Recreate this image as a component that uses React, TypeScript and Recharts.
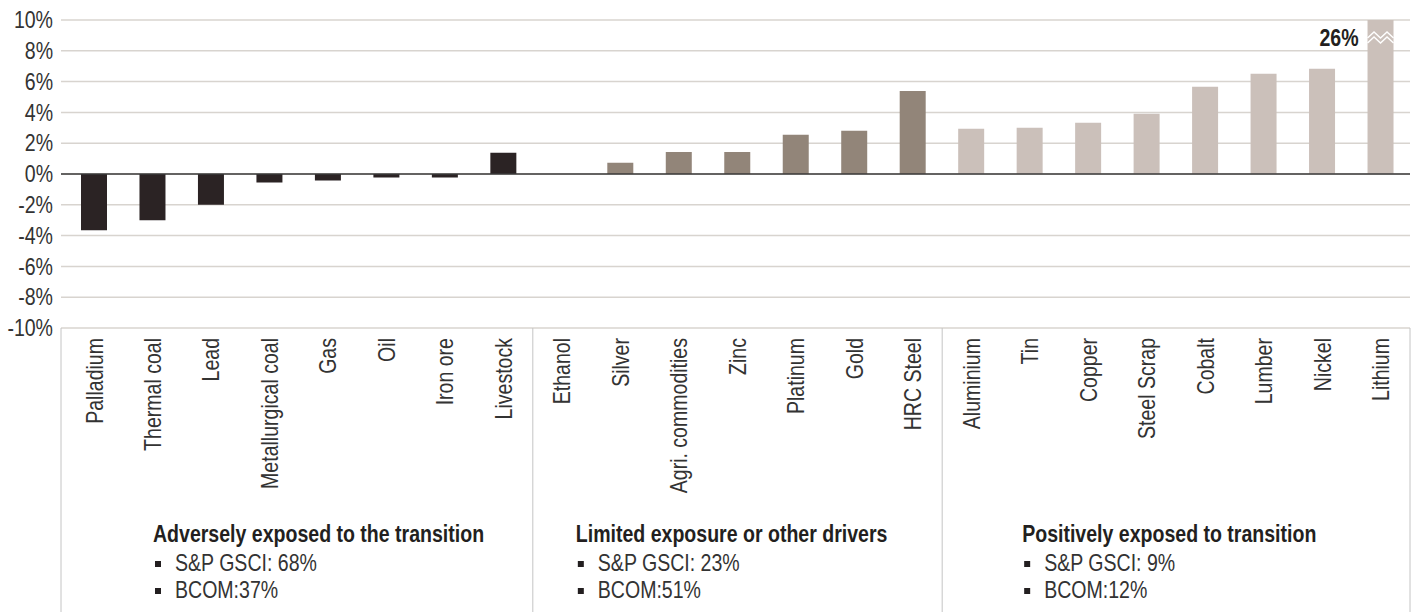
import React from "react";
import {
  BarChart,
  Bar,
  Cell,
  XAxis,
  YAxis,
  CartesianGrid,
  ReferenceLine,
  LabelList,
} from "recharts";

// commodities, ordered by transition exposure bucket
const categories = [
  "Palladium",
  "Thermal coal",
  "Lead",
  "Metallurgical coal",
  "Gas",
  "Oil",
  "Iron ore",
  "Livestock",
  "Ethanol",
  "Silver",
  "Agri. commodities",
  "Zinc",
  "Platinum",
  "Gold",
  "HRC Steel",
  "Aluminium",
  "Tin",
  "Copper",
  "Steel Scrap",
  "Cobalt",
  "Lumber",
  "Nickel",
  "Lithium",
];

// % change per commodity
const changes = [
  -3.66, -3.0, -2.0, -0.55, -0.42, -0.22, -0.22, 1.38,
  0, 0.73, 1.43, 1.43, 2.55, 2.81, 5.39,
  2.94, 3.01, 3.33, 3.92, 5.67, 6.51, 6.84, 26,
];

// bucket index for each commodity
const groupOf = [
  0, 0, 0, 0, 0, 0, 0, 0,
  1, 1, 1, 1, 1, 1, 1,
  2, 2, 2, 2, 2, 2, 2, 2,
];

const groupTitles = [
  "Adversely exposed to the transition",
  "Limited exposure or other drivers",
  "Positively exposed to transition",
];

const groupBullets = [
  ["S&P GSCI: 68%", "BCOM:37%"],
  ["S&P GSCI: 23%", "BCOM:51%"],
  ["S&P GSCI: 9%", "BCOM:12%"],
];

const yTicks = [-10, -8, -6, -4, -2, 0, 2, 4, 6, 8, 10];
const Y_MAX = 10;

const data = categories.map((name, i) => ({
  name,
  value: changes[i],
  group: groupOf[i],
}));

const WIDTH = 1416;
const HEIGHT = 612;
const MARGIN = { top: 20, right: 6, bottom: 0, left: 0 };
const X_PAD = 4;
const GROUP_COLORS = ["#2b2324", "#928579", "#cbc0ba"];
const GROUP_LABEL_INSET = [92, 43, 80];
const FONT = "'Liberation Sans', Arial, sans-serif";
const FONT_SIZE = 23;
const NARROW = 0.85; // horizontal squeeze to get a condensed face
const TEXT = "#231f20";
const SEP = "#c4c4c4";

type TxtProps = {
  x: number;
  y: number;
  rotate?: number;
  anchor?: "start" | "middle" | "end";
  dy?: string;
  bold?: boolean;
  fill?: string;
  children: React.ReactNode;
};

function Txt({ x, y, rotate = 0, anchor = "start", dy, bold, fill = TEXT, children }: TxtProps) {
  return (
    <text
      transform={`translate(${x},${y}) rotate(${rotate}) scale(${NARROW},1)`}
      x={0}
      y={0}
      dy={dy}
      textAnchor={anchor}
      fontFamily={FONT}
      fontSize={FONT_SIZE}
      fontWeight={bold ? "bold" : "normal"}
      fill={fill}
    >
      {children}
    </text>
  );
}

function ValueTick(props: any) {
  const { x, y, payload } = props;
  return (
    <Txt x={x} y={y} anchor="end" dy="0.36em" fill="#333">
      {`${payload.value}%`}
    </Txt>
  );
}

function CategoryTick(props: any) {
  const { x, y, payload, index } = props;
  const half = payload.offset ?? 29;
  const g = groupOf[index];
  const first = index === 0 || groupOf[index - 1] !== g;
  const last = index === categories.length - 1;
  const axisTop = y - 8;
  const left = x - half - (index === 0 ? X_PAD : 0);
  const tx = left + GROUP_LABEL_INSET[g];

  return (
    <g>
      {first && (
        <line x1={left} x2={left} y1={axisTop} y2={HEIGHT} stroke={SEP} strokeWidth={1} />
      )}
      {last && (
        <line x1={x + half} x2={x + half} y1={axisTop} y2={HEIGHT} stroke={SEP} strokeWidth={1} />
      )}
      <Txt x={x} y={y + 2} rotate={-90} anchor="end" dy="0.36em" fill="#333">
        {payload.value}
      </Txt>
      {first && (
        <g>
          <Txt x={tx} y={axisTop + 214} bold>
            {groupTitles[g]}
          </Txt>
          {groupBullets[g].map((b, j) => (
            <g key={j}>
              <rect x={tx + 2} y={axisTop + 233 + j * 27} width={6} height={6} fill={TEXT} />
              <Txt x={tx + 22} y={axisTop + 243 + j * 27} fill="#333">
                {b}
              </Txt>
            </g>
          ))}
        </g>
      )}
    </g>
  );
}

// value label plus break marks for bars running past the axis top
function OverflowLabel(props: any) {
  const { x, width, value } = props;
  if (value <= Y_MAX) return null;
  const top = MARGIN.top;
  const zig = (oy: number) =>
    [0, 0.25, 0.5, 0.75, 1]
      .map((t, k) => `${x + t * width},${top + oy + (k % 2 === 0 ? 6 : 0)}`)
      .join(" ");
  return (
    <g>
      <Txt x={x - 9} y={top + 26} anchor="end" bold>
        {`${value}%`}
      </Txt>
      <polyline points={zig(12)} fill="none" stroke="#fff" strokeWidth={1.4} />
      <polyline points={zig(17)} fill="none" stroke="#fff" strokeWidth={1.4} />
    </g>
  );
}

export default function App() {
  return (
    <div style={{ position: "absolute", left: 0, top: 0, background: "#fff" }}>
      <BarChart width={WIDTH} height={HEIGHT} data={data} margin={MARGIN}>
        <CartesianGrid vertical={false} stroke="#d8d4cf" strokeWidth={1.5} />
        <XAxis
          dataKey="name"
          interval={0}
          height={284}
          axisLine={false}
          tickLine={false}
          padding={{ left: X_PAD, right: 0 }}
          tick={<CategoryTick />}
        />
        <YAxis
          type="number"
          width={61}
          domain={[-10, 10]}
          ticks={yTicks}
          interval={0}
          allowDataOverflow
          axisLine={false}
          tickLine={false}
          tick={<ValueTick />}
        />
        <ReferenceLine y={0} stroke="#3a3a3a" strokeWidth={1.5} />
        <Bar dataKey="value" barSize={26} isAnimationActive={false}>
          {data.map((d, i) => (
            <Cell key={i} fill={GROUP_COLORS[d.group]} />
          ))}
          <LabelList dataKey="value" content={<OverflowLabel />} />
        </Bar>
      </BarChart>
    </div>
  );
}
